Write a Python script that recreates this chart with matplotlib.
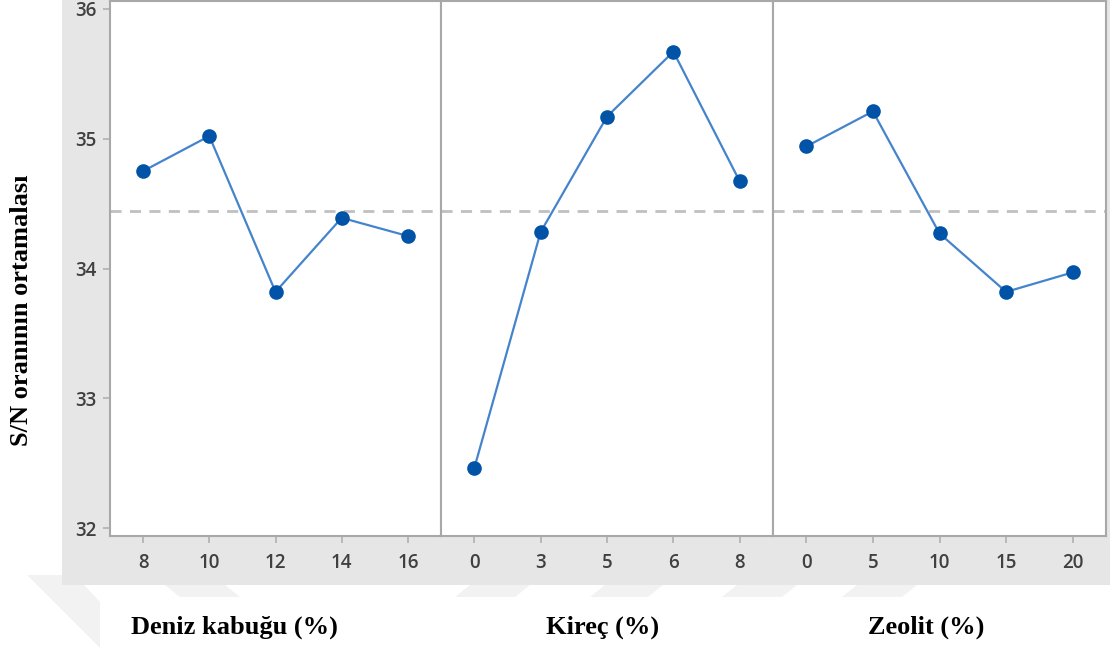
import matplotlib.pyplot as plt
from matplotlib.patches import Rectangle, Polygon

# S/N ortalamaları, her faktörün beş seviyesi için
deniz_seviye = ['8', '10', '12', '14', '16']
deniz_sn = [34.75, 35.02, 33.82, 34.39, 34.25]

kirec_seviye = ['0', '3', '5', '6', '8']
kirec_sn = [32.46, 34.28, 35.17, 35.67, 34.67]

zeolit_seviye = ['0', '5', '10', '15', '20']
zeolit_sn = [34.94, 35.21, 34.27, 33.82, 33.97]

faktorler = ['Deniz kabuğu (%)', 'Kireç (%)', 'Zeolit (%)']
genel_ort = sum(deniz_sn + kirec_sn + zeolit_sn) / 15

W, H = 1110, 648
fig = plt.figure(figsize=(W / 100, H / 100), dpi=100)
fig.patch.set_facecolor('white')


def px(x, y):
    return x / W, 1 - y / H


# gri arka plan
x0, y0 = px(62, 585)
fig.patches.append(Rectangle((x0, y0), 1 - x0, 1 - y0, transform=fig.transFigure,
                             facecolor='#e6e6e6', edgecolor='none', zorder=-2))

# alt kısımdaki soluk şeritler
serit_renk = '#f2f2f2'
seritler = [
    [(27, 575), (62, 575), (62, 585), (84, 585), (100, 602), (100, 648)],
    [(165, 585), (225, 585), (240, 597), (180, 597)],
    [(455, 597), (515, 597), (530, 585), (470, 585)],
    [(590, 597), (648, 597), (663, 585), (605, 585)],
    [(722, 597), (782, 597), (797, 585), (737, 585)],
    [(842, 597), (902, 597), (917, 585), (857, 585)],
]
for s in seritler:
    fig.patches.append(Polygon([px(a, b) for a, b in s], closed=True,
                               transform=fig.transFigure, facecolor=serit_renk,
                               edgecolor='none', zorder=-2))

tick_font = dict(family=['Open Sans', 'DejaVu Sans'], size=13.5, color='#404040',
                 weight='semibold')
spine_renk = '#a8a8a8'

sinirlar = [110, 441, 773, 1106]
veriler = [(deniz_seviye, deniz_sn), (kirec_seviye, kirec_sn), (zeolit_seviye, zeolit_sn)]
ust, alt = 1, 536
for i, (seviye, sn) in enumerate(veriler):
    l, b = px(sinirlar[i], alt)
    w = (sinirlar[i + 1] - sinirlar[i]) / W
    h = (alt - ust) / H
    ax = fig.add_axes([l, b, w, h])
    ax.set_facecolor('white')
    konum = list(range(1, len(seviye) + 1))
    ax.axhline(genel_ort, color='#c0c0c0', lw=2, ls=(0, (4, 3)), zorder=1)
    ax.plot(konum, sn, color='#4584cc', lw=1.6, zorder=2)
    ax.plot(konum, sn, 'o', color='#0053a6', ms=9.5, zorder=3)
    ax.set_xlim(0.5, len(seviye) + 0.5)
    ax.set_ylim(31.94, 36.06)
    ax.set_xticks(konum)
    ax.set_xticklabels(seviye, fontdict=tick_font)
    ax.tick_params(axis='x', length=5, width=1.2, color='#b0b0b0', pad=7)
    for sp in ax.spines.values():
        sp.set_color(spine_renk)
        sp.set_linewidth(1.5)
    if i == 0:
        ax.set_yticks([32, 33, 34, 35, 36])
        ax.set_yticklabels(['32', '33', '34', '35', '36'], fontdict=tick_font)
        ax.tick_params(axis='y', length=5, width=1.2, color='#b0b0b0', pad=5)
    else:
        ax.set_yticks([])

# eksen başlıkları
baslik_font = dict(family=['Liberation Serif', 'DejaVu Serif'], size=19,
                   weight='bold', color='black')
for etiket, xp in zip(faktorler, [234, 603, 926]):
    fig.text(*px(xp, 627), etiket, ha='center', va='center', **baslik_font)
fig.text(*px(22, 310), 'S/N oranının ortamalası', rotation=90, ha='center',
         va='center', **baslik_font)

fig.savefig('out.png', dpi=100)
